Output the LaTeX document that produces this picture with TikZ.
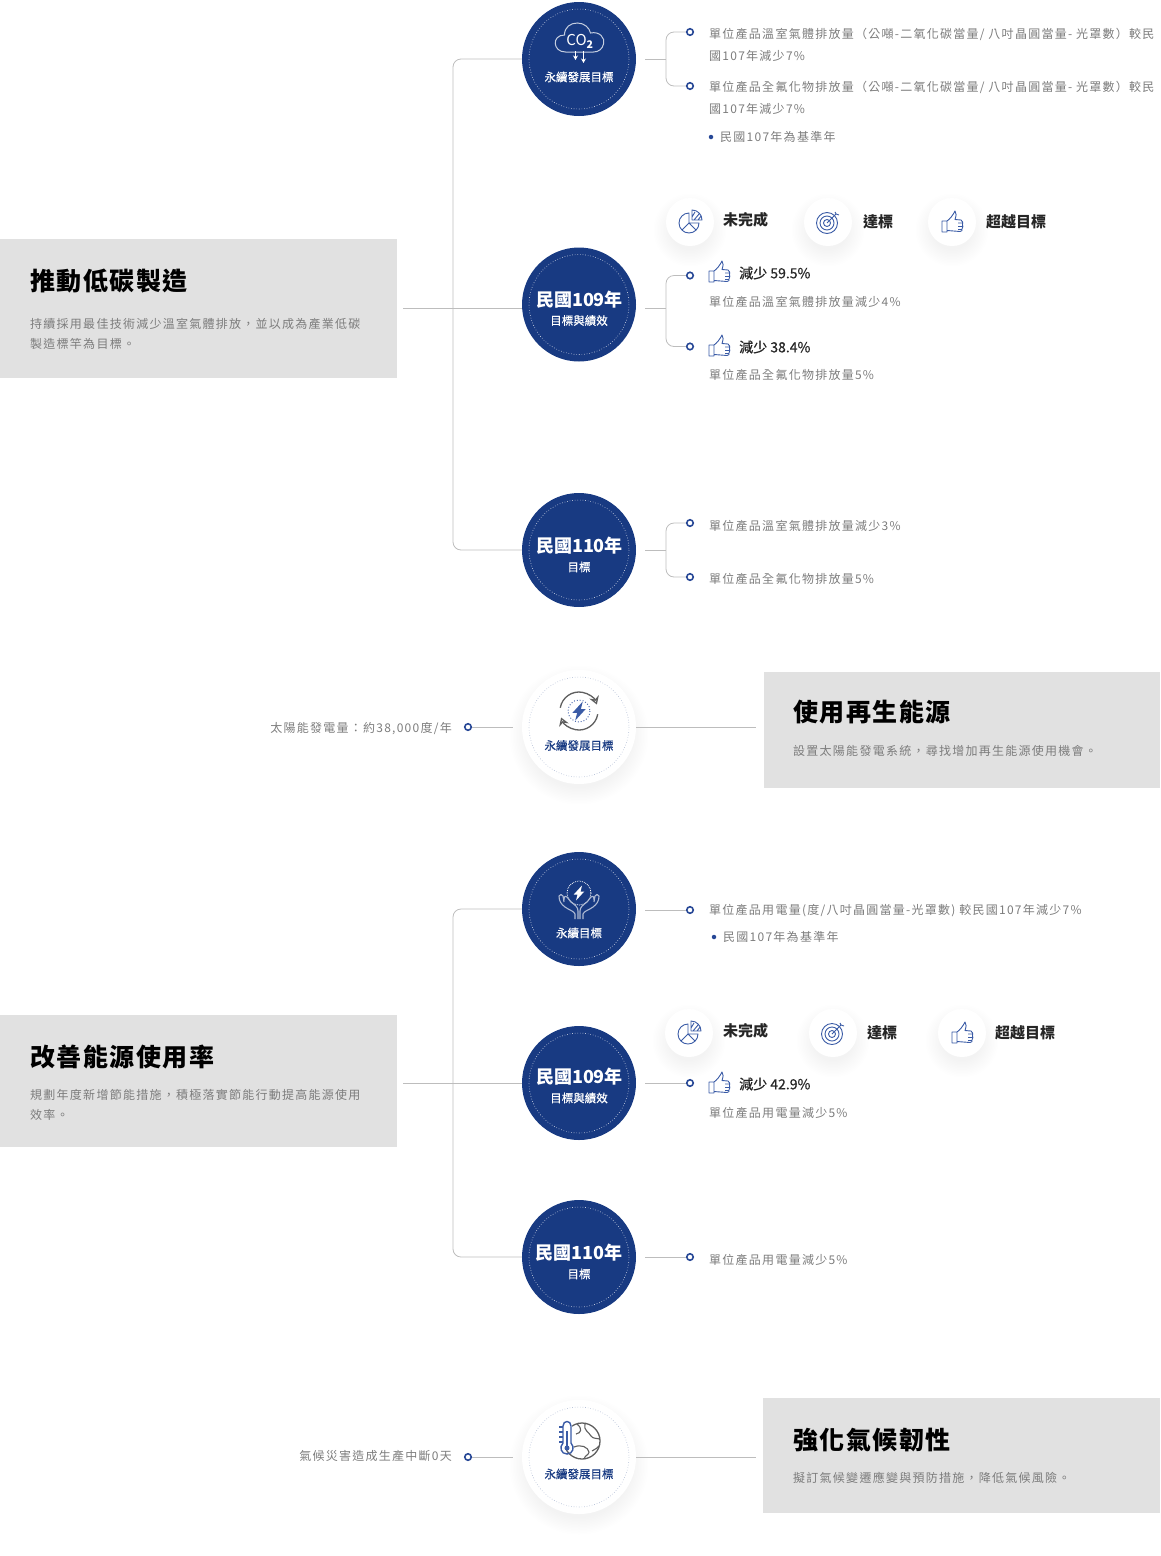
\documentclass[tikz,border=0pt]{standalone}
\usepackage{fontspec}
\setmainfont{Noto Sans CJK TC}
\newfontfamily\bodyfont[LetterSpace=10.5]{Noto Sans CJK TC}
\newfontfamily\headfont[LetterSpace=6]{Noto Sans CJK TC}
\newfontfamily\medfont[FakeBold=0.6]{Noto Sans CJK TC}
\usetikzlibrary{arrows.meta}
\definecolor{navy}{HTML}{183A82}
\definecolor{dotblue}{HTML}{264796}
\definecolor{panel}{HTML}{E1E1E1}
\definecolor{linegray}{HTML}{BDBDBD}
\definecolor{bodygray}{HTML}{7C7C7C}
\definecolor{icongray}{HTML}{5F5F5F}
\definecolor{iconblue}{HTML}{3A5BA6}
\tikzset{
  panelbox/.style={fill=panel, inner sep=0pt, minimum width=#1},
  paneltitle/.style={anchor=west, inner sep=0pt, text=black, font=\headfont\fontsize{25}{30}\selectfont\bfseries},
  bodytext/.style={anchor=west, inner sep=0pt, align=left, text=bodygray, font=\bodyfont\fontsize{12}{22}\selectfont},
  paneltext/.style={bodytext, font=\bodyfont\fontsize{12}{20}\selectfont},
  endtext/.style={bodytext, anchor=east},
  legendtext/.style={anchor=west, inner sep=0pt, text=black!85, font=\fontsize{15}{18}\selectfont\bfseries},
  gaintext/.style={anchor=west, inner sep=0pt, text=black!85, font=\medfont\fontsize{14}{18}\selectfont},
  navycircle/.style={circle, fill=navy, inner sep=0pt, minimum size=114pt},
  whitecircle/.style={circle, fill=white, inner sep=0pt, minimum size=114pt},
  legendcircle/.style={circle, fill=white, inner sep=0pt, minimum size=48pt},
  yeartext/.style={inner sep=0pt, text=white, font=\fontsize{18}{22}\selectfont\bfseries},
  subtext/.style={inner sep=0pt, text=white, font=\medfont\fontsize{11.5}{14}\selectfont},
  bluesub/.style={subtext, text=navy},
  tickdot/.style={circle, draw=dotblue, fill=white, line width=1.6pt, inner sep=0pt, minimum size=6.5pt},
  bulletdot/.style={circle, fill=dotblue, inner sep=0pt, minimum size=4.5pt},
  linkline/.style={draw=linegray, line width=.8pt},
  forkline/.style={linkline, rounded corners=8pt},
  softshadow/.pic={
    \foreach \i in {0,...,11}
      \fill[black, opacity=.0045] (0,8) circle ({#1-4+\i*1.5});
  },
  thumbicon/.pic={
    \draw[iconblue, line width=.9pt, line join=round]
      (-5,-1) -- (-10,-1) -- (-10,10) -- (-5,10) -- cycle
      (-5,8.5) -- (8,9.5) .. controls (10,9.5) and (10.5,8) .. (10,7)
      .. controls (11,5) and (11,4) .. (10.5,3) .. controls (11,1) and (11,-1) .. (9,-2)
      -- (3,-2.5) .. controls (4,-6) and (5,-9) .. (3,-11) .. controls (1,-7) and (-2,-3) .. (-5,-1)
      (6,1) -- (10.5,1) (6,4.5) -- (10.5,4.5) (6,7.5) -- (10,7.5);
  },
  pieicon/.pic={
    \draw[iconblue, line width=.9pt, line join=round]
      (9,1) arc[start angle=0, end angle=270, radius=10] -- (-1,1) -- cycle
      (-1,1) -- (-8,8) (-1,1) -- (6,8)
      (2,-2) -- (2,-12) arc[start angle=-90, end angle=0, radius=10] -- cycle
      (2,-5) -- (5,-10) (4,-2) -- (9,-8) (8,-2) -- (11,-6);
  },
  targeticon/.pic={
    \draw[iconblue, line width=.9pt]
      (-1,1) circle (10.5) (-1,1) circle (7) (-1,1) circle (3.5);
    \draw[iconblue, line width=.9pt] (-1,1) -- (8,-8) (7,-10) -- (8,-8) -- (11,-7);
  },
  cloudicon/.pic={
    \draw[white!75!navy, line width=1pt]
      (-14,14) .. controls (-27,14) and (-28,-3) .. (-15,-3) .. controls (-15,-11) and (-9,-15) .. (-2,-15)
      .. controls (5,-15) and (10,-10) .. (11,-5) .. controls (20,-7) and (26,0) .. (24,6)
      .. controls (23,11) and (19,14) .. (14,14) -- cycle;
    \draw[white, line width=.9pt, -{Stealth[length=4.5pt,width=5pt]}] (-4,13) -- (-4,22);
    \draw[white, line width=.9pt, -{Stealth[length=4.5pt,width=5pt]}] (4,13) -- (4,25);
  },
  bolticon/.pic={
    \fill (4,-10) -- (-7,2) -- (-2,2) -- (-4,10) -- (7,-2) -- (2,-2) -- cycle;
  },
  cycleicon/.pic={
    \draw[icongray, line width=1.3pt, -{Stealth[open,length=8pt,width=10pt]}]
      (0,0) ++(190:19) arc[start angle=190, end angle=340, radius=19];
    \draw[icongray, line width=1.3pt, -{Stealth[open,length=8pt,width=10pt]}]
      (0,0) ++(10:19) arc[start angle=10, end angle=160, radius=19];
    \draw[iconblue, line width=.9pt, dotted] (0,0) circle (11);
    \pic[iconblue, scale=.95] {bolticon};
  },
  handsicon/.pic={
    \draw[white, line width=.8pt, densely dotted] (0,0) circle (12);
    \pic[white, scale=.75] {bolticon};
    \foreach \s in {1,-1}
      \draw[xscale=\s, white!65!navy, line width=1.1pt, line join=round]
        (4,26) -- (4,21) .. controls (5,18) and (10,17) .. (14,14) .. controls (18,11) and (20,8) .. (20,3)
        .. controls (19,1) and (17,1) .. (16,3) -- (15,9)
        (1,26) -- (1,18) .. controls (1,14) and (4,12) .. (8,9) -- (12,4) .. controls (14,2) and (16,5) .. (15,7);
  },
  globeicon/.pic={
    \draw[icongray, line width=1.3pt] (3,0) circle (18);
    \draw[icongray, line width=1.1pt]
      (-2,-17) .. controls (4,-12) and (2,-8) .. (-3,-7)
      (6,-17) .. controls (4,-11) and (10,-9) .. (12,-5) .. controls (14,-2) and (18,-3) .. (21,-2)
      (-5,6) .. controls (2,3) and (9,6) .. (10,11) .. controls (10,14) and (6,14) .. (5,18)
      (13,10) .. controls (16,8) and (19,7) .. (20,5);
    \fill[white, rounded corners=4pt] (-17,-20) rectangle (-7,8);
    \draw[iconblue, line width=1.4pt] (-16,2) -- (-16,-15) .. controls (-16,-21) and (-8,-21) .. (-8,-15) -- (-8,2)
      .. controls (-4,6) and (-6,13) .. (-12,13) .. controls (-18,13) and (-20,6) .. (-16,2);
    \fill[iconblue] (-12,7) circle (2.5);
    \draw[iconblue, line width=1.3pt] (-12,7) -- (-12,-10);
    \foreach \t in {-14,-9,-4,1}
      \draw[iconblue, line width=1.2pt] (-20,\t) -- (-16,\t);
  }
}
\begin{document}
\begin{tikzpicture}[x=1pt, y=-1pt]
  \useasboundingbox (0,0) rectangle (1160,1556);

  % grey panels
  \node[panelbox=397pt, minimum height=139pt] (boxA) at (198.5,308.5) {};
  \node[panelbox=396pt, minimum height=116pt] (boxB) at (962,730) {};
  \node[panelbox=397pt, minimum height=132pt] (boxC) at (198.5,1081) {};
  \node[panelbox=397pt, minimum height=115pt] (boxD) at (961.5,1455.5) {};

  \node[paneltitle] (titleA) at (30,281.5) {推動低碳製造};
  \node[paneltext] (textA) at (30,333.5) {持續採用最佳技術減少溫室氣體排放^^^^ff0c並以成為產業低碳\\製造標竿為目標。};
  \node[paneltitle] (titleB) at (793,712.5) {使用再生能源};
  \node[paneltext] (textB) at (793,751) {設置太陽能發電系統^^^^ff0c尋找增加再生能源使用機會。};
  \node[paneltitle] (titleC) at (30,1056.5) {改善能源使用率};
  \node[paneltext] (textC) at (30,1104.5) {規劃年度新增節能措施^^^^ff0c積極落實節能行動提高能源使用\\效率。};
  \node[paneltitle] (titleD) at (793,1440.5) {強化氣候韌性};
  \node[paneltext] (textD) at (793,1478) {擬訂氣候變遷應變與預防措施^^^^ff0c降低氣候風險。};

  % shadows go under the white circles
  \foreach \x/\y/\r in {579/727/57, 579/1457/57, 690/222/24, 828/222/24, 952/222/24, 689/1033/24, 833/1033/24, 962/1033/24}
    \pic at (\x,\y) {softshadow=\r};

  % circles
  \node[navycircle] (goalA) at (579,59) {};
  \node[navycircle] (yearA) at (579,304.5) {};
  \node[navycircle] (nextA) at (579,550) {};
  \node[whitecircle] (solar) at (579,727) {};
  \node[navycircle] (goalC) at (579,909) {};
  \node[navycircle] (yearC) at (579,1083) {};
  \node[navycircle] (nextC) at (579,1257) {};
  \node[whitecircle] (climate) at (579,1457) {};
  \foreach \c in {goalA, yearA, nextA, goalC, yearC, nextC}
    \draw[white!85!navy, line width=.6pt, dotted] (\c) circle (50);
  \foreach \c in {solar, climate}
    \draw[navy!35, line width=.6pt, dotted] (\c) circle (50);

  % circle labels
  \pic at (579.5,38) {cloudicon};
  \node[inner sep=0pt, text=white, font=\fontsize{15}{16}\selectfont] (co) at (580,41) {CO\textsubscript{\bfseries 2}};
  \node[subtext] (goalAlabel) at (579,77) {永續發展目標};
  \node[yeartext] (yearAlabel) at (579.5,300) {民國109年};
  \node[subtext] (yearAsub) at (579,320.5) {目標與績效};
  \node[yeartext] (nextAlabel) at (579.5,546) {民國110年};
  \node[subtext] (nextAsub) at (579,567) {目標};
  \pic at (579,711) {cycleicon};
  \node[bluesub] (solarlabel) at (579,745.5) {永續發展目標};
  \pic at (579,893) {handsicon};
  \node[subtext] (goalClabel) at (579,933) {永續目標};
  \node[yeartext] (yearClabel) at (579.5,1077) {民國109年};
  \node[subtext] (yearCsub) at (579,1098) {目標與績效};
  \node[yeartext] (nextClabel) at (579,1253) {民國110年};
  \node[subtext] (nextCsub) at (579,1274) {目標};
  \pic at (579,1441) {globeicon};
  \node[bluesub] (climatelabel) at (579,1474) {永續發展目標};

  % end dots
  \node[tickdot] (dotA) at (690,32) {};
  \node[tickdot] (dotB) at (690,86) {};
  \node[tickdot] (dotC) at (690,275.5) {};
  \node[tickdot] (dotD) at (690,346.5) {};
  \node[tickdot] (dotE) at (690,523) {};
  \node[tickdot] (dotF) at (690,577) {};
  \node[tickdot] (dotG) at (468,727) {};
  \node[tickdot] (dotH) at (690,910) {};
  \node[tickdot] (dotI) at (690,1083) {};
  \node[tickdot] (dotJ) at (690,1257) {};
  \node[tickdot] (dotK) at (468,1457) {};
  \node[bulletdot] (bulletA) at (711,137) {};
  \node[bulletdot] (bulletB) at (714,937) {};

  % connectors
  \coordinate (trunkA) at (453,308.5);
  \coordinate (trunkC) at (453,1083);
  \coordinate (forkA) at (666,59);
  \coordinate (forkB) at (666,308);
  \coordinate (forkC) at (666,550);
  \draw[linkline, shorten <=6pt] (boxA.east) -- (boxA.east -| yearA.west);
  \draw[forkline] (goalA.west) -| (trunkA) |- (nextA.west);
  \draw[linkline, shorten <=9pt] (goalA.east) -- (forkA);
  \draw[forkline] (dotA.west) -| (forkA) |- (dotB.west);
  \draw[linkline, shorten <=9pt] (yearA.east |- forkB) -- (forkB);
  \draw[forkline] (dotC.west) -| (forkB) |- (dotD.west);
  \draw[linkline, shorten <=9pt] (nextA.east) -- (forkC);
  \draw[forkline] (dotE.west) -| (forkC) |- (dotF.west);
  \draw[linkline, shorten >=9pt] (dotG.east) -- (solar.west);
  \draw[linkline, shorten >=8pt] (solar.east) -- (solar.east -| boxB.west);
  \draw[linkline, shorten <=6pt] (boxC.east |- trunkC) -- (yearC.west);
  \draw[forkline] (goalC.west) -| (trunkC) |- (nextC.west);
  \draw[linkline, shorten <=9pt] (goalC.east |- dotH) -- (dotH.west);
  \draw[linkline, shorten <=9pt] (yearC.east) -- (dotI.west);
  \draw[linkline, shorten <=9pt] (nextC.east) -- (dotJ.west);
  \draw[linkline, shorten >=9pt] (dotK.east) -- (climate.west);
  \draw[linkline, shorten >=7pt] (climate.east) -- (climate.east -| boxD.west);

  % texts right of the dots
  \node[bodytext] (itemA) at (709,44.5) {單位產品溫室氣體排放量^^^^ff08公噸-二氧化碳當量/ 八吋晶圓當量- 光罩數^^^^ff09較民\\國107年減少7\%};
  \node[bodytext] (itemB) at (709,98) {單位產品全氟化物排放量^^^^ff08公噸-二氧化碳當量/ 八吋晶圓當量- 光罩數^^^^ff09較民\\國107年減少7\%};
  \node[bodytext] (baseA) at (720,137) {民國107年為基準年};
  \node[bodytext] (itemC) at (709,301.5) {單位產品溫室氣體排放量減少4\%};
  \node[bodytext] (itemD) at (709,374.5) {單位產品全氟化物排放量5\%};
  \node[bodytext] (itemE) at (709,525.5) {單位產品溫室氣體排放量減少3\%};
  \node[bodytext] (itemF) at (709,578.5) {單位產品全氟化物排放量5\%};
  \node[endtext] (itemG) at (452,729) {太陽能發電量^^^^ff1a約38,000度/年};
  \node[bodytext] (itemH) at (709,910.5) {單位產品用電量(度/八吋晶圓當量-光罩數) 較民國107年減少7\%};
  \node[bodytext] (baseB) at (723,936.5) {民國107年為基準年};
  \node[bodytext] (itemI) at (709,1112.5) {單位產品用電量減少5\%};
  \node[bodytext] (itemJ) at (709,1259.5) {單位產品用電量減少5\%};
  \node[endtext] (itemK) at (452,1456) {氣候災害造成生產中斷0天};

  % legends and gains
  \node[legendcircle] (pieA) at (690,222) {};
  \node[legendcircle] (aimA) at (828,222) {};
  \node[legendcircle] (upA) at (952,222) {};
  \pic at (pieA) {pieicon};
  \pic at (aimA) {targeticon};
  \pic at (upA) {thumbicon};
  \node[legendtext] (pieAlabel) at (723,220) {未完成};
  \node[legendtext] (aimAlabel) at (863,222) {達標};
  \node[legendtext] (upAlabel) at (986,222) {超越目標};
  \node[legendcircle] (pieC) at (689,1033) {};
  \node[legendcircle] (aimC) at (833,1033) {};
  \node[legendcircle] (upC) at (962,1033) {};
  \pic at (pieC) {pieicon};
  \pic at (aimC) {targeticon};
  \pic at (upC) {thumbicon};
  \node[legendtext] (pieClabel) at (723,1031) {未完成};
  \node[legendtext] (aimClabel) at (867,1033) {達標};
  \node[legendtext] (upClabel) at (995,1033) {超越目標};
  \pic at (719,272) {thumbicon};
  \pic at (719,346) {thumbicon};
  \pic at (719,1083) {thumbicon};
  \node[gaintext] (gainA) at (739,273) {減少 59.5\%};
  \node[gaintext] (gainB) at (739,347) {減少 38.4\%};
  \node[gaintext] (gainC) at (739,1084) {減少 42.9\%};
\end{tikzpicture}
\end{document}
